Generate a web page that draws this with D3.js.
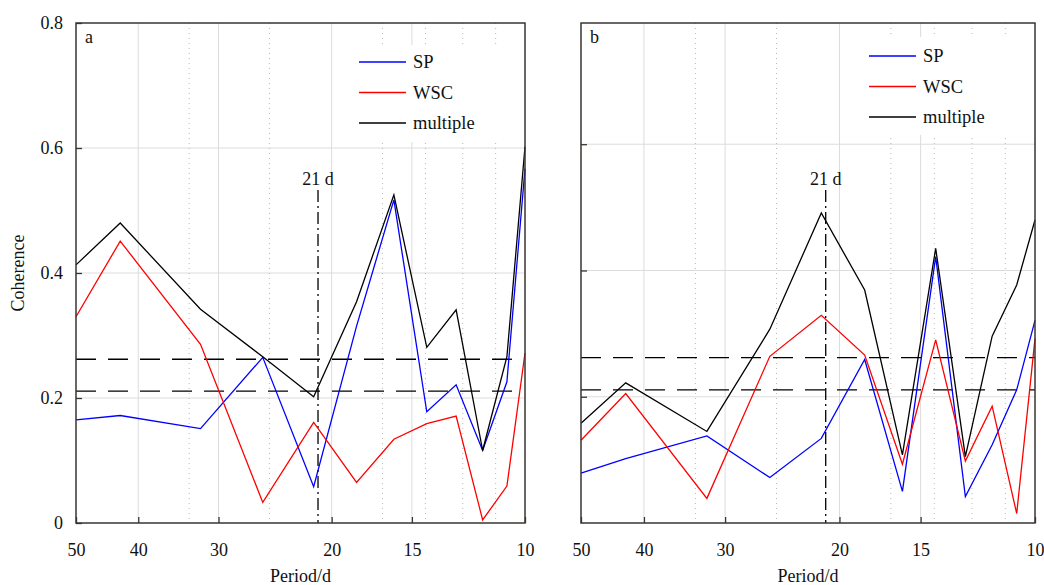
<!DOCTYPE html>
<html>
<head>
<meta charset="utf-8">
<script src="https://cdn.jsdelivr.net/npm/d3@7"></script>
<style>
  body { margin: 0; background: #fff; }
  text { font-family: "Liberation Serif", "Times New Roman", serif; fill: #111; }
  .grid { stroke: #dcdcdc; stroke-width: 1; }
  .minor { stroke: #b8b8b8; stroke-width: 1; stroke-dasharray: 1,4; }
  .frame { fill: none; stroke: #3a3431; stroke-width: 1.5; }
  .axis path { display: none; }
  .axis line { stroke: #3a3431; stroke-width: 1.3; }
  .axis text { font-size: 18px; }
</style>
</head>
<body>
<svg width="1044" height="585"></svg>
<script>
var svg = d3.select("svg");

// periods of the coherence estimates (days); ends are the axis edges
var periods = [50, 42.67, 32, 25.6, 21.33, 18.29, 16, 14.22, 12.8, 11.64, 10.67, 10];
var xTicks = [50, 40, 30, 20, 15, 10];
var minorPeriods = [33.33, 25, 16.67, 14.29, 12.5, 11.11];
var yTicks = [0, 0.2, 0.4, 0.6, 0.8];
var thresholds = [0.262, 0.211];
var eventPeriod = 21;
var seriesNames = ["SP", "WSC", "multiple"];
var seriesColors = ["#0000ff", "#ff0000", "#000000"];

// panel a
var spA   = [0.165, 0.172, 0.151, 0.265, 0.058, 0.315, 0.517, 0.178, 0.221, 0.116, 0.226, 0.567];
var wscA  = [0.330, 0.451, 0.286, 0.033, 0.161, 0.065, 0.134, 0.159, 0.171, 0.005, 0.059, 0.272];
var multA = [0.413, 0.480, 0.342, 0.266, 0.202, 0.354, 0.525, 0.281, 0.341, 0.116, 0.266, 0.602];

// panel b
var spB   = [0.079, 0.102, 0.138, 0.072, 0.134, 0.259, 0.050, 0.422, 0.042, 0.124, 0.211, 0.321];
var wscB  = [0.131, 0.205, 0.039, 0.264, 0.329, 0.266, 0.093, 0.290, 0.098, 0.185, 0.015, 0.292];
var multB = [0.158, 0.222, 0.145, 0.307, 0.491, 0.369, 0.108, 0.435, 0.105, 0.296, 0.377, 0.480];

var panels = [
  {label: "a", left: 76, right: 525, top: 23, bottom: 523, yMax: 0.8, yLabels: true,
   series: [spA, wscA, multA], legend: {x: 340, y: 45, w: 184, h: 97, row0: 17},
   threshEnd: 12},
  {label: "b", left: 581, right: 1035, top: 23, bottom: 523, yMax: 0.792, yLabels: false,
   series: [spB, wscB, multB], legend: {x: 850, y: 37, w: 184, h: 98, row0: 19},
   threshEnd: 0}
];

panels.forEach(drawPanel);

svg.append("text")
    .attr("transform", "translate(24,273) rotate(-90)")
    .attr("text-anchor", "middle")
    .style("font-size", "18px")
    .text("Coherence");

function drawPanel(p) {
  var x = d3.scaleLog().domain([50, 10]).range([p.left, p.right]);
  var y = d3.scaleLinear().domain([0, p.yMax]).range([p.bottom, p.top]);
  var g = svg.append("g");

  // grid
  g.selectAll(".hgrid")
    .data([0.2, 0.4, 0.6])
    .enter().append("line")
      .attr("class", "grid")
      .attr("x1", p.left).attr("x2", p.right)
      .attr("y1", function(d) { return y(d); })
      .attr("y2", function(d) { return y(d); });

  g.selectAll(".vgrid")
    .data([40, 30, 20, 15])
    .enter().append("line")
      .attr("class", "grid")
      .attr("x1", function(d) { return x(d); })
      .attr("x2", function(d) { return x(d); })
      .attr("y1", p.top).attr("y2", p.bottom);

  g.selectAll(".minor")
    .data(minorPeriods)
    .enter().append("line")
      .attr("class", "minor")
      .attr("x1", function(d) { return x(d); })
      .attr("x2", function(d) { return x(d); })
      .attr("y1", p.top).attr("y2", p.bottom);

  // legend box hides the grid behind it
  var lg = p.legend;
  g.append("rect")
    .attr("x", lg.x).attr("y", lg.y)
    .attr("width", lg.w).attr("height", lg.h)
    .style("fill", "#fff");

  // significance levels
  g.selectAll(".thresh")
    .data(thresholds)
    .enter().append("line")
      .attr("x1", p.left).attr("x2", p.right - p.threshEnd)
      .attr("y1", function(d) { return y(d); })
      .attr("y2", function(d) { return y(d); })
      .style("stroke", "#000")
      .style("stroke-width", 1.3)
      .style("stroke-dasharray", "20,12");

  // 21 d marker
  g.append("line")
    .attr("x1", x(eventPeriod)).attr("x2", x(eventPeriod))
    .attr("y1", p.top + 167).attr("y2", p.bottom)
    .style("stroke", "#000")
    .style("stroke-width", 1.3)
    .style("stroke-dasharray", "12,4,2,4");

  g.append("text")
    .attr("x", x(eventPeriod))
    .attr("y", p.top + 162)
    .attr("text-anchor", "middle")
    .style("font-size", "18px")
    .text("21 d");

  // series
  var line = d3.line()
      .x(function(d, i) { return x(periods[i]); })
      .y(function(d) { return y(d); });

  g.selectAll(".series")
    .data(p.series)
    .enter().append("path")
      .attr("d", line)
      .style("fill", "none")
      .style("stroke", function(d, i) { return seriesColors[i]; })
      .style("stroke-width", 1.3);

  // legend
  var items = g.selectAll(".legend")
    .data(seriesNames)
    .enter().append("g")
      .attr("transform", function(d, i) {
        return "translate(" + (lg.x + 19) + "," + (lg.y + lg.row0 + i * 30.5) + ")";
      });

  items.append("line")
    .attr("x1", 0).attr("x2", 47)
    .style("stroke", function(d, i) { return seriesColors[i]; })
    .style("stroke-width", 1.5);

  items.append("text")
    .attr("x", 54)
    .attr("dy", "0.33em")
    .style("font-size", "18.5px")
    .text(function(d) { return d; });

  // axes with inward ticks
  g.append("g")
    .attr("class", "axis")
    .attr("transform", "translate(0," + p.bottom + ")")
    .call(d3.axisBottom(x)
      .tickValues(xTicks)
      .tickFormat(d3.format("d"))
      .tickSize(-6)
      .tickPadding(20));

  g.append("g")
    .attr("class", "axis")
    .attr("transform", "translate(" + p.left + ",0)")
    .call(d3.axisLeft(y)
      .tickValues(p.yLabels ? yTicks : [0.2, 0.4, 0.6])
      .tickFormat(p.yLabels ? function(d) { return d === 0 ? "0" : d3.format(".1f")(d); } : "")
      .tickSize(-6)
      .tickPadding(13));

  g.append("rect")
    .attr("class", "frame")
    .attr("x", p.left).attr("y", p.top)
    .attr("width", p.right - p.left)
    .attr("height", p.bottom - p.top);

  g.append("text")
    .attr("x", p.left + 9)
    .attr("y", p.top + 20)
    .style("font-size", "18px")
    .text(p.label);

  g.append("text")
    .attr("x", (p.left + p.right) / 2)
    .attr("y", 582)
    .attr("text-anchor", "middle")
    .style("font-size", "18px")
    .text("Period/d");
}
</script>
</body>
</html>
